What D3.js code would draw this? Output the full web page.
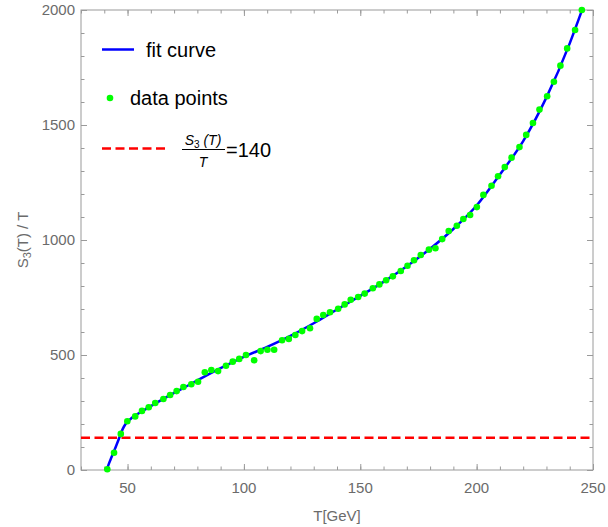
<!DOCTYPE html>
<html>
<head>
<meta charset="utf-8">
<script src="https://cdn.jsdelivr.net/npm/d3@7"></script>
<style>
  body { margin: 0; background: #fff; }
  text { font-family: 'Liberation Sans', Arial, sans-serif; }
</style>
</head>
<body>
<svg id="chart" width="608" height="527"></svg>
<script>
// Data points
var data_T = [41.3, 44.2, 47.1, 49.9, 53.3, 56.2, 59.1, 61.9, 65.4, 68.3,
  71.1, 74.0, 77.4, 80.3, 83.2, 86.0, 88.9, 92.3, 95.2, 98.0,
  100.9, 104.4, 107.2, 110.1, 113.0, 116.4, 119.3, 122.1, 125.0, 128.4,
  131.3, 134.1, 137.0, 140.5, 143.3, 145.9, 149.1, 151.9, 155.4, 158.2,
  161.1, 164.0, 167.4, 170.3, 173.1, 176.0, 179.5, 182.3, 185.2, 188.0,
  191.5, 194.3, 197.2, 200.1, 202.9, 206.4, 209.2, 212.1, 215.0, 218.4,
  221.3, 224.2, 227.0, 230.3, 233.2, 236.0, 238.9, 242.3, 245.2]
var data_S = [3, 75, 157, 212, 233, 257, 273, 291, 309, 326,
  343, 361, 373, 384, 425, 435, 430, 453, 471, 483,
  500, 477, 517, 523, 523, 564, 570, 587, 604, 616,
  657, 674, 686, 701, 720, 740, 752, 767, 790, 807,
  825, 842, 865, 888, 912, 935, 958, 964, 1004, 1039,
  1062, 1091, 1109, 1143, 1196, 1236, 1277, 1317, 1358, 1404,
  1457, 1509, 1567, 1625, 1688, 1758, 1833, 1913, 2000]

// Fit curve
var fit_T = [41.05, 42, 43, 44, 45, 46, 47, 48, 49, 50, 52, 55, 60, 65, 70, 75, 80,
  90, 100, 110, 120, 130, 140, 150, 160, 170, 180, 190, 200, 210, 220, 230, 240, 245.3]
var fit_S = [0, 28, 53, 77, 102, 128, 155, 180, 198, 210, 228, 248, 278, 307, 335, 362, 390,
  443, 492, 535, 583, 638, 698, 757, 818, 886, 962, 1048, 1150, 1285, 1430, 1620, 1855, 2000]

var threshold = 140
var x_ticks = [50, 100, 150, 200, 250]
var y_ticks = [0, 500, 1000, 1500, 2000]
var x_minor = d3.range(30, 251, 10)
var y_minor = d3.range(0, 2001, 100)

var margin = {top: 10, right: 15, bottom: 57, left: 81}
var width = 608 - margin.left - margin.right
var height = 527 - margin.top - margin.bottom

var frame_color = '#9a9a9a'
var label_color = '#6b6b6b'

var svg = d3.select('#chart')
var g = svg.append('g')
  .attr('transform', 'translate(' + margin.left + ',' + margin.top + ')')

var x = d3.scaleLinear().domain([30, 250]).range([0, width])
var y = d3.scaleLinear().domain([0, 2000]).range([height, 0])

g.append('clipPath').attr('id', 'clip')
  .append('rect').attr('width', width).attr('height', height)

// Frame ticks (major + minor, mirrored on all sides)
function add_axis(axis, tr, ticks, size, labels) {
  var a = g.append('g').attr('transform', tr)
    .call(axis.tickValues(ticks).tickSize(size).tickSizeOuter(0)
      .tickFormat(labels ? d3.format('d') : ''))
  a.select('.domain').remove()
  a.selectAll('line').attr('stroke', frame_color)
  a.selectAll('text').attr('fill', label_color).style('font-size', '15px')
  return a
}
add_axis(d3.axisTop(x), 'translate(0,' + height + ')', x_minor, 3.5, false)
add_axis(d3.axisTop(x), 'translate(0,' + height + ')', x_ticks, 6, false)
add_axis(d3.axisBottom(x), 'translate(0,0)', x_minor, 3.5, false)
add_axis(d3.axisBottom(x), 'translate(0,0)', x_ticks, 6, false)
add_axis(d3.axisRight(y), 'translate(0,0)', y_minor, 3.5, false)
add_axis(d3.axisRight(y), 'translate(0,0)', y_ticks, 6, false)
add_axis(d3.axisLeft(y), 'translate(' + width + ',0)', y_minor, 3.5, false)
add_axis(d3.axisLeft(y), 'translate(' + width + ',0)', y_ticks, 6, false)

// Tick labels
g.selectAll('.xlab').data(x_ticks).enter().append('text')
  .attr('x', d => x(d)).attr('y', height + 23)
  .attr('text-anchor', 'middle').attr('fill', label_color)
  .style('font-size', '15px').text(d => d)
g.selectAll('.ylab').data(y_ticks).enter().append('text')
  .attr('x', -6).attr('y', d => y(d) + 5)
  .attr('text-anchor', 'end').attr('fill', label_color)
  .style('font-size', '15px').text(d => d)

// Frame
g.append('rect').attr('width', width).attr('height', height)
  .attr('fill', 'none').attr('stroke', frame_color).attr('stroke-width', 1)

// Axis titles
svg.append('text')
  .attr('x', margin.left + width / 2).attr('y', 521)
  .attr('text-anchor', 'middle').attr('fill', label_color)
  .style('font-size', '15px').text('T[GeV]')
var ylab = svg.append('text')
  .attr('transform', 'translate(28,' + (margin.top + height / 2) + ') rotate(-90)')
  .attr('text-anchor', 'middle').attr('fill', label_color)
  .style('font-size', '15px')
ylab.append('tspan').text('S')
ylab.append('tspan').attr('baseline-shift', '-25%').style('font-size', '11px').text('3')
ylab.append('tspan').text('(T) / T')

// Threshold line
g.append('line')
  .attr('x1', 0).attr('x2', width)
  .attr('y1', y(threshold)).attr('y2', y(threshold))
  .attr('stroke', '#ff0000').attr('stroke-width', 2.5)
  .attr('stroke-dasharray', '9,4.5')

// Fit curve
var line = d3.line()
  .x((d, i) => x(fit_T[i]))
  .y(d => y(d))
  .curve(d3.curveMonotoneX)
g.append('path')
  .datum(fit_S)
  .attr('clip-path', 'url(#clip)')
  .attr('d', line)
  .attr('fill', 'none')
  .attr('stroke', '#0000ff')
  .attr('stroke-width', 2.5)

// Data points
g.selectAll('.pt').data(data_S).enter().append('circle')
  .attr('cx', (d, i) => x(data_T[i]))
  .attr('cy', d => y(d))
  .attr('r', 3.3)
  .attr('fill', '#00ff00')

// Legend
var leg = svg.append('g')
leg.append('line').attr('x1', 102).attr('x2', 134).attr('y1', 49.5).attr('y2', 49.5)
  .attr('stroke', '#0000ff').attr('stroke-width', 2.5)
leg.append('text').attr('x', 146).attr('y', 56.5).style('font-size', '20px').text('fit curve')
leg.append('circle').attr('cx', 110).attr('cy', 98).attr('r', 3.3).attr('fill', '#00ff00')
leg.append('text').attr('x', 130).attr('y', 105).style('font-size', '20px').text('data points')
leg.append('line').attr('x1', 102).attr('x2', 166).attr('y1', 148.5).attr('y2', 148.5)
  .attr('stroke', '#ff0000').attr('stroke-width', 2.5)
  .attr('stroke-dasharray', '9,4.5')

// Fraction S3(T)/T = 140
var num = leg.append('text').attr('x', 203).attr('y', 144.5)
  .attr('text-anchor', 'middle').style('font-size', '14px').style('font-style', 'italic')
num.append('tspan').text('S')
num.append('tspan').attr('dy', 3).style('font-size', '10px').style('font-style', 'normal').text('3')
num.append('tspan').attr('dy', -3).text(' (T)')
leg.append('line').attr('x1', 182).attr('x2', 225).attr('y1', 149.5).attr('y2', 149.5)
  .attr('stroke', '#000').attr('stroke-width', 1)
leg.append('text').attr('x', 203).attr('y', 166.5)
  .attr('text-anchor', 'middle').style('font-size', '14px').style('font-style', 'italic').text('T')
leg.append('text').attr('x', 226).attr('y', 156.5).style('font-size', '20px').text('=' + threshold)
</script>
</body>
</html>
